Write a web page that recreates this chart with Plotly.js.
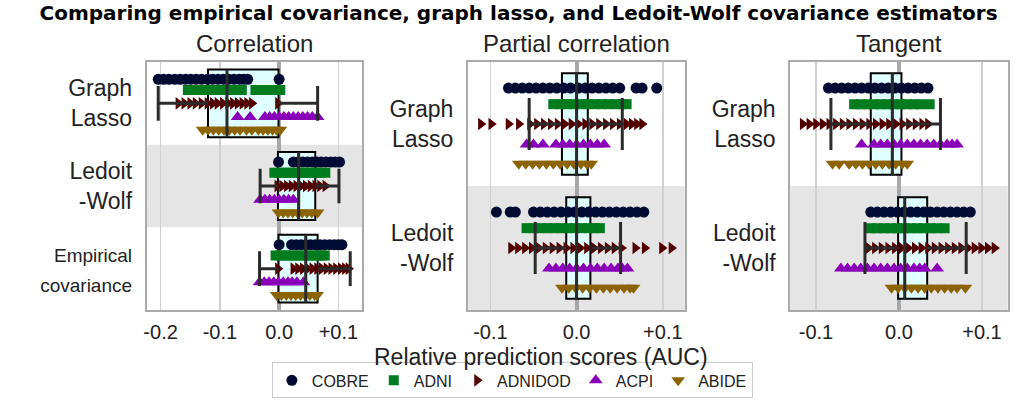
<!DOCTYPE html>
<html><head><meta charset="utf-8">
<script src="https://cdn.plot.ly/plotly-3.0.1.min.js"></script>
<style>body{margin:0;padding:0;background:#fff}#chart{width:1033px;height:400px}</style>
</head><body><div id="chart"></div>
<script>
// ---------- DATA ----------
const datasets = ['COBRE', 'ADNI', 'ADNIDOD', 'ACPI', 'ABIDE'];
const panelTitles = ['Correlation', 'Partial correlation', 'Tangent'];
const rowLabels = [
  ['Graph<br>Lasso', 'Ledoit<br>-Wolf', '<span style="font-size:19px">Empirical</span><br><span style="font-size:19px">covariance</span>'],
  ['Graph<br>Lasso', 'Ledoit<br>-Wolf'],
  ['Graph<br>Lasso', 'Ledoit<br>-Wolf']
];
// groups: corr-GL, corr-LW, corr-EMP, partial-GL, partial-LW, tangent-GL, tangent-LW
const groupPanel = [0, 0, 0, 1, 1, 2, 2];
const groupRow   = [0, 1, 2, 0, 1, 0, 1];

const COBRE = [
  [-0.204, -0.195, -0.186, -0.176, -0.167, -0.158, -0.149, -0.140, -0.131, -0.121, -0.112, -0.103, -0.094, -0.085, -0.076, -0.067, -0.060, -0.053, 0.000],
  [-0.001, 0.024, 0.032, 0.040, 0.048, 0.056, 0.064, 0.071, 0.079, 0.087, 0.095, 0.102],
  [0.000, 0.021, 0.029, 0.037, 0.045, 0.053, 0.061, 0.069, 0.077, 0.085, 0.093, 0.100, 0.106],
  [-0.079, -0.071, -0.063, -0.055, -0.047, -0.039, -0.031, -0.023, -0.015, -0.007, 0.002, 0.010, 0.018, 0.026, 0.034, 0.042, 0.050, 0.069, 0.076, 0.093],
  [-0.093, -0.077, -0.071, -0.050, -0.042, -0.034, -0.026, -0.018, -0.010, -0.002, 0.006, 0.014, 0.022, 0.030, 0.038, 0.046, 0.054, 0.062, 0.070, 0.078],
  [-0.085, -0.077, -0.069, -0.061, -0.053, -0.045, -0.037, -0.029, -0.021, -0.013, -0.005, 0.003, 0.011, 0.019, 0.027, 0.035],
  [-0.034, -0.026, -0.018, -0.010, -0.002, 0.006, 0.014, 0.022, 0.030, 0.038, 0.046, 0.054, 0.062, 0.070, 0.078, 0.086]
];
const ADNI = [
  [-0.154, -0.145, -0.136, -0.127, -0.118, -0.108, -0.099, -0.090, -0.081, -0.072, -0.063, -0.040, -0.031, -0.022, -0.013, -0.005, 0.002],
  [-0.008, 0.000, 0.008, 0.016, 0.024, 0.032, 0.040, 0.048, 0.056, 0.064, 0.071, 0.078],
  [-0.006, 0.002, 0.010, 0.018, 0.026, 0.034, 0.042, 0.050, 0.058, 0.066, 0.072, 0.077],
  [-0.027, -0.019, -0.011, -0.003, 0.005, 0.013, 0.021, 0.029, 0.037, 0.045, 0.052, 0.058],
  [-0.058, -0.050, -0.042, -0.034, -0.026, -0.018, -0.010, -0.002, 0.006, 0.014, 0.021, 0.027],
  [-0.054, -0.046, -0.038, -0.030, -0.022, -0.014, -0.006, 0.002, 0.010, 0.018, 0.026, 0.037],
  [-0.034, -0.026, -0.018, -0.010, -0.002, 0.006, 0.014, 0.022, 0.030, 0.038, 0.046, 0.055]
];
const ADNIDOD = [
  [-0.170, -0.160, -0.150, -0.141, -0.131, -0.121, -0.112, -0.104, -0.095, -0.086, -0.078, -0.070, -0.062, -0.054, -0.046, -0.002],
  [-0.003, 0.005, 0.013, 0.021, 0.029, 0.037, 0.045, 0.053, 0.061, 0.069, 0.078],
  [-0.002, 0.024, 0.032, 0.040, 0.048, 0.056, 0.064, 0.072, 0.080, 0.088, 0.096, 0.104, 0.111, 0.117],
  [-0.111, -0.099, -0.079, -0.067, -0.054, -0.046, -0.038, -0.030, -0.022, -0.014, -0.006, 0.002, 0.010, 0.018, 0.026, 0.034, 0.042, 0.050, 0.058, 0.064, 0.070, 0.076],
  [-0.076, -0.068, -0.060, -0.052, -0.044, -0.036, -0.028, -0.020, -0.012, -0.004, 0.004, 0.012, 0.020, 0.028, 0.036, 0.044, 0.052, 0.068, 0.079, 0.099, 0.110],
  [-0.116, -0.108, -0.100, -0.092, -0.084, -0.076, -0.068, -0.060, -0.052, -0.044, -0.036, -0.028, -0.020, -0.012, -0.004, 0.004, 0.012, 0.020, 0.028, 0.035],
  [-0.037, -0.029, -0.021, -0.013, -0.005, 0.003, 0.011, 0.019, 0.027, 0.035, 0.043, 0.051, 0.059, 0.067, 0.075, 0.083, 0.091, 0.099, 0.107, 0.115]
];
const ACPI = [
  [-0.070, -0.049, -0.024, -0.016, -0.008, 0.000, 0.008, 0.016, 0.024, 0.032, 0.040, 0.048, 0.056, 0.065],
  [-0.032, -0.024, -0.016, -0.008, 0.000, 0.008, 0.016, 0.024],
  [-0.033, -0.025, -0.017, -0.009, -0.001, 0.007, 0.015, 0.022, 0.030, 0.041],
  [-0.058, -0.050, -0.039, -0.024, -0.016, -0.008, 0.000, 0.008, 0.016, 0.024, 0.032],
  [-0.032, -0.024, -0.016, -0.008, 0.000, 0.008, 0.016, 0.024, 0.032, 0.040, 0.048, 0.053, 0.059],
  [-0.045, -0.030, -0.022, -0.014, -0.006, 0.002, 0.010, 0.018, 0.026, 0.034, 0.042, 0.050, 0.058, 0.064, 0.070],
  [-0.070, -0.062, -0.054, -0.046, -0.038, -0.030, -0.022, -0.014, -0.006, 0.002, 0.010, 0.018, 0.025, 0.031, 0.046]
];
const ABIDE = [
  [-0.129, -0.120, -0.111, -0.102, -0.093, -0.084, -0.075, -0.066, -0.055, -0.046, -0.035, -0.027, -0.019, -0.011, -0.004, 0.002],
  [-0.001, 0.007, 0.015, 0.023, 0.031, 0.039, 0.047, 0.055, 0.065],
  [-0.004, 0.004, 0.012, 0.020, 0.028, 0.036, 0.044, 0.052, 0.060, 0.064],
  [-0.067, -0.059, -0.051, -0.043, -0.035, -0.027, -0.019, -0.011, -0.003, 0.005, 0.012, 0.017],
  [-0.017, -0.009, -0.001, 0.007, 0.015, 0.023, 0.031, 0.039, 0.047, 0.055, 0.062, 0.066],
  [-0.080, -0.072, -0.060, -0.052, -0.044, -0.036, -0.028, -0.020, -0.012, -0.004, 0.004, 0.010],
  [-0.009, -0.001, 0.007, 0.015, 0.023, 0.031, 0.039, 0.047, 0.055, 0.063, 0.070, 0.080]
];

// box statistics per group
const boxQ1     = [-0.120, -0.002, -0.001, -0.017, -0.012, -0.034, -0.001];
const boxMedian = [-0.088,  0.033,  0.045,  0.000,  0.000, -0.008,  0.007];
const boxQ3     = [-0.001,  0.061,  0.065,  0.013,  0.016,  0.003,  0.034];
const whiskLo   = [-0.204, -0.032, -0.033, -0.055, -0.048, -0.082, -0.041];
const whiskHi   = [ 0.065,  0.101,  0.120,  0.053,  0.051,  0.050,  0.081];

const xTickVals = [[-0.2, -0.1, 0, 0.1], [-0.1, 0, 0.1], [-0.1, 0, 0.1]];
const xTickText = [['-0.2', '-0.1', '0.0', '+0.1'], ['-0.1', '0.0', '+0.1'], ['-0.1', '0.0', '+0.1']];

// ---------- STYLE ----------
const dataByName = {COBRE, ADNI, ADNIDOD, ACPI, ABIDE};
const colors  = {COBRE: '#000b33', ADNI: '#007b1d', ADNIDOD: '#520000', ACPI: '#8a00b8', ABIDE: '#8c6405'};
const symbols = {COBRE: 'circle', ADNI: 'square', ADNIDOD: 'triangle-right', ACPI: 'triangle-up', ABIDE: 'triangle-down'};
const sizes   = {COBRE: 11, ADNI: 10, ADNIDOD: 11, ACPI: 12, ABIDE: 12};
const yOffset = {COBRE: -0.29, ADNI: -0.16, ADNIDOD: 0, ACPI: 0.165, ABIDE: 0.32};
const BOXW = 0.82, CAPH = 0.21;
const FONT = 'Liberation Sans, Arial, sans-serif';
const xDomains = [[0.142, 0.3505], [0.453, 0.663], [0.765, 0.9755]];
const xRanges = [[-0.2235, 0.140], [-0.126, 0.1256], [-0.131, 0.131]];
const yDomain = [0.225, 0.845];

const traces = [];
const axSuffix = p => (p === 0 ? '' : String(p + 1));

for (let p = 0; p < 3; p++) {
  const gIdx = groupPanel.map((gp, i) => gp === p ? i : -1).filter(i => i >= 0);
  const xa = 'x' + axSuffix(p), ya = 'y' + axSuffix(p);
  traces.push({
    type: 'box', orientation: 'h', xaxis: xa, yaxis: ya,
    y: gIdx.map(i => groupRow[i]),
    q1: gIdx.map(i => boxQ1[i]), median: gIdx.map(i => boxMedian[i]), q3: gIdx.map(i => boxQ3[i]),
    lowerfence: gIdx.map(i => boxQ1[i]), upperfence: gIdx.map(i => boxQ3[i]),
    width: BOXW, fillcolor: '#e0ffff', line: {color: '#000000', width: 2},
    boxpoints: false, showlegend: false, hoverinfo: 'skip'
  });
  datasets.forEach(name => {
    const xs = [], ys = [];
    gIdx.forEach(i => {
      dataByName[name][i].forEach(v => { xs.push(v); ys.push(groupRow[i] + yOffset[name]); });
    });
    traces.push({
      type: 'scatter', mode: 'markers', name: name, legendgroup: name,
      showlegend: p === 0, xaxis: xa, yaxis: ya, x: xs, y: ys,
      marker: {symbol: symbols[name], color: colors[name], size: sizes[name], line: {width: 0}},
      hoverinfo: 'x+name'
    });
  });
  const lx = [], ly = [];
  gIdx.forEach(i => {
    const r = groupRow[i];
    lx.push(whiskLo[i], boxQ1[i], null, boxQ3[i], whiskHi[i], null);
    ly.push(r, r, null, r, r, null);
    lx.push(whiskLo[i], whiskLo[i], null, whiskHi[i], whiskHi[i], null);
    ly.push(r - CAPH, r + CAPH, null, r - CAPH, r + CAPH, null);
    lx.push(boxMedian[i], boxMedian[i], null);
    ly.push(r - BOXW / 2, r + BOXW / 2, null);
  });
  traces.push({
    type: 'scatter', mode: 'lines', xaxis: xa, yaxis: ya, x: lx, y: ly,
    line: {color: '#2b2b2b', width: 3}, showlegend: false, hoverinfo: 'skip'
  });
}

const layout = {
  width: 1033, height: 400,
  margin: {l: 0, r: 0, t: 0, b: 0},
  paper_bgcolor: '#ffffff', plot_bgcolor: '#ffffff',
  font: {family: FONT, size: 20, color: '#222222'},
  title: {
    text: '<b>Comparing empirical covariance, graph lasso, and Ledoit-Wolf covariance estimators</b>',
    font: {family: 'DejaVu Sans, sans-serif', size: 20, color: '#000000'},
    x: 0.502, xanchor: 'center', y: 0.99, yanchor: 'top', pad: {t: 2}
  },
  showlegend: true,
  legend: {
    orientation: 'h', x: 0.496, xanchor: 'center', y: 0.004, yanchor: 'bottom',
    bordercolor: '#cccccc', borderwidth: 1, font: {family: FONT, size: 16, color: '#222222'},
    itemwidth: 30, itemclick: false, itemdoubleclick: false
  },
  shapes: [], annotations: []
};

for (let p = 0; p < 3; p++) {
  const s = axSuffix(p);
  const nRows = rowLabels[p].length;
  layout['xaxis' + s] = {
    domain: xDomains[p], range: xRanges[p], anchor: 'y' + s,
    tickvals: xTickVals[p], ticktext: xTickText[p],
    tickfont: {family: FONT, size: 20, color: '#222222'},
    ticks: 'outside', ticklen: 3, tickcolor: 'rgba(0,0,0,0)',
    showgrid: true, gridcolor: '#d0d0d0', gridwidth: 1.5,
    zeroline: true, zerolinecolor: '#a8a8a8', zerolinewidth: 4,
    showline: true, mirror: true, linecolor: '#aaaaaa', linewidth: 2, fixedrange: true
  };
  layout['yaxis' + s] = {
    domain: yDomain, range: [nRows - 0.5, -0.5], anchor: 'x' + s,
    tickvals: rowLabels[p].map((_, i) => i), ticktext: rowLabels[p],
    tickfont: {family: FONT, size: 23, color: '#222222'},
    ticks: 'outside', ticklen: 8, tickcolor: 'rgba(0,0,0,0)',
    showgrid: false, zeroline: false,
    showline: true, mirror: true, linecolor: '#aaaaaa', linewidth: 2, fixedrange: true
  };
  layout.shapes.push({
    type: 'rect', xref: 'x' + s + ' domain', yref: 'y' + s,
    x0: 0, x1: 1, y0: 0.5, y1: 1.5,
    fillcolor: '#e5e5e5', line: {width: 0}, layer: 'below'
  });
  layout.annotations.push({
    text: panelTitles[p], xref: 'paper', yref: 'paper',
    x: (xDomains[p][0] + xDomains[p][1]) / 2, y: yDomain[1], yshift: 3,
    xanchor: 'center', yanchor: 'bottom', showarrow: false,
    font: {family: FONT, size: 24, color: '#222222'}
  });
}
layout.annotations.push({
  text: 'Relative prediction scores (AUC)', xref: 'paper', yref: 'paper',
  x: 0.5237, y: 0.108, xanchor: 'center', yanchor: 'middle', showarrow: false,
  font: {family: FONT, size: 23, color: '#222222'}
});

Plotly.newPlot('chart', traces, layout, {displayModeBar: false, staticPlot: true});
</script>
</body></html>
